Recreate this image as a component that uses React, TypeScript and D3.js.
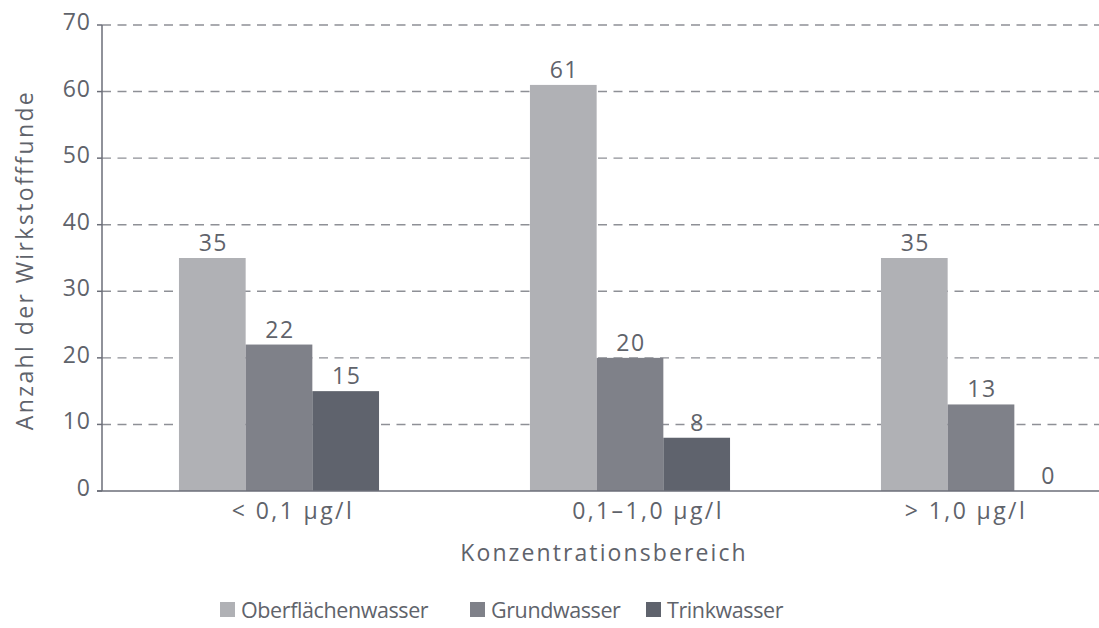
import React, { useEffect, useRef } from 'react';
import * as d3 from 'd3';

const categories = ['< 0,1 µg/l', '0,1–1,0 µg/l', '> 1,0 µg/l'];
const seriesNames = ['Oberflächenwasser', 'Grundwasser', 'Trinkwasser'];
const oberflaechenwasser = [35, 61, 35];
const grundwasser = [22, 20, 13];
const trinkwasser = [15, 8, 0];
const yTicks = [0, 10, 20, 30, 40, 50, 60, 70];

const colors = ['#b0b1b5', '#7f8189', '#5f636d'];
const textColor = '#5f636b';
const font = '"Open Sans", "DejaVu Sans", sans-serif';
// the category labels in the original sit slightly off the group centres
const labelShift = [14, 18, -15];

const App: React.FC = () => {
  const svgRef = useRef<SVGSVGElement>(null);

  useEffect(() => {
    if (!svgRef.current) return;
    const svg = d3.select(svgRef.current);
    svg.selectAll('*').remove();

    const width = 1099;
    const top = 25;
    const bottom = 491;
    const left = 102;

    const values = [oberflaechenwasser, grundwasser, trinkwasser];

    const y = d3.scaleLinear().domain([0, 70]).range([bottom, top]);

    const x0 = d3.scaleBand()
      .domain(categories)
      .range([103.5, 1156.5])
      .paddingInner(0.43)
      .paddingOuter(0.215);

    const x1 = d3.scaleBand()
      .domain(seriesNames)
      .range([0, x0.bandwidth()]);

    const label = (sel: any, size: number, ls: number) =>
      sel.attr('font-family', font)
        .attr('font-size', size)
        .attr('letter-spacing', ls)
        .attr('fill', textColor);

    // gridlines
    svg.append('g')
      .selectAll('line')
      .data(yTicks.filter(t => t > 0))
      .enter()
      .append('line')
      .attr('x1', left)
      .attr('x2', width)
      .attr('y1', d => y(d))
      .attr('y2', d => y(d))
      .attr('stroke', '#8e9096')
      .attr('stroke-width', 1.4)
      .attr('stroke-dasharray', '9,6.5');

    // bars + value labels
    seriesNames.forEach((s, si) => {
      svg.append('g')
        .selectAll('rect')
        .data(categories)
        .enter()
        .append('rect')
        .attr('x', c => (x0(c) as number) + (x1(s) as number))
        .attr('width', x1.bandwidth())
        .attr('y', (c, i) => y(values[si][i]))
        .attr('height', (c, i) => bottom - y(values[si][i]))
        .attr('fill', colors[si]);

      svg.append('g')
        .selectAll('text')
        .data(categories)
        .enter()
        .append('text')
        .attr('x', c => (x0(c) as number) + (x1(s) as number) + x1.bandwidth() / 2 + 1)
        .attr('y', (c, i) => y(values[si][i]) - 7)
        .attr('text-anchor', 'middle')
        .call(label, 23, 1.5)
        .text((c, i) => values[si][i]);
    });

    // axes
    svg.append('line')
      .attr('x1', left).attr('x2', left)
      .attr('y1', top).attr('y2', bottom)
      .attr('stroke', '#6b6e78').attr('stroke-width', 1.5);
    svg.append('line')
      .attr('x1', left - 5).attr('x2', width)
      .attr('y1', bottom).attr('y2', bottom)
      .attr('stroke', '#6b6e78').attr('stroke-width', 1.5);

    const yAxis = svg.append('g');
    yTicks.forEach(t => {
      yAxis.append('line')
        .attr('x1', left - 5).attr('x2', left)
        .attr('y1', y(t)).attr('y2', y(t))
        .attr('stroke', '#6b6e78').attr('stroke-width', 1.5);
      yAxis.append('text')
        .attr('x', 91)
        .attr('y', y(t) + 5)
        .attr('text-anchor', 'end')
        .call(label, 23, 1)
        .text(t);
    });

    svg.append('g')
      .selectAll('text')
      .data(categories)
      .enter()
      .append('text')
      .attr('x', (c, i) => (x0(c) as number) + x0.bandwidth() / 2 + labelShift[i])
      .attr('y', 519)
      .attr('text-anchor', 'middle')
      .call(label, 23, 2.4)
      .text(c => c);

    svg.append('text')
      .attr('x', 604)
      .attr('y', 561)
      .attr('text-anchor', 'middle')
      .call(label, 23, 2.1)
      .text('Konzentrationsbereich');

    svg.append('text')
      .attr('transform', 'translate(33,260) rotate(-90)')
      .attr('text-anchor', 'middle')
      .call(label, 23, 2.4)
      .text('Anzahl der Wirkstofffunde');

    // legend
    const legendX = [220, 470, 646];
    seriesNames.forEach((s, i) => {
      svg.append('rect')
        .attr('x', legendX[i])
        .attr('y', 602)
        .attr('width', 15)
        .attr('height', 15)
        .attr('fill', colors[i]);
      svg.append('text')
        .attr('x', legendX[i] + 21)
        .attr('y', 618)
        .call(label, 21.5, -0.4)
        .text(s);
    });
  }, []);

  return (
    <svg
      ref={svgRef}
      width={1099}
      height={628}
      style={{ position: 'fixed', top: 0, left: 0, background: '#fff' }}
    ></svg>
  );
};

export default App;
